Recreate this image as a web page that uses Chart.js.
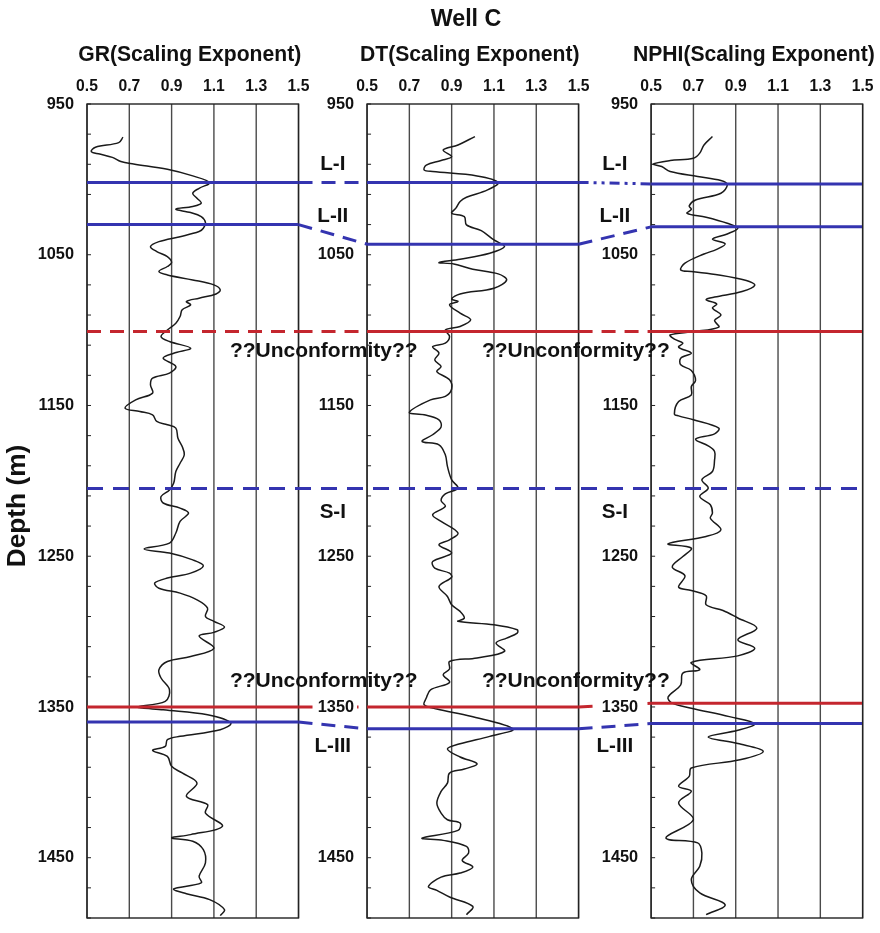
<!DOCTYPE html>
<html>
<head>
<meta charset="utf-8">
<title>Well C</title>
<script src="https://cdn.jsdelivr.net/npm/chart.js@4.4.1/dist/chart.umd.min.js"></script>
<style>
  html, body { margin: 0; padding: 0; background: #fff; }
  canvas { display: block; }
</style>
</head>
<body>
<canvas id="wellChart" width="880" height="933"></canvas>
<script>
const trackTitles = ['GR(Scaling Exponent)', 'DT(Scaling Exponent)', 'NPHI(Scaling Exponent)'];
const xTickValues = [0.5, 0.7, 0.9, 1.1, 1.3, 1.5];
const depthTickLabels = [950, 1050, 1150, 1250, 1350, 1450];
const depthMin = 950;
const depthMax = 1490;
const depthMinorStep = 20;

// GR scaling exponent vs depth
const grDepth = [972, 975.6, 978.7, 981.6, 983.2, 985.4, 988.2, 989.8, 993.3, 997.7, 1002.2, 1005.9, 1009.2, 1012.5, 1015.8, 1018, 1019.8, 1022, 1024.7, 1028.6, 1032.4, 1034.6, 1038, 1041.3, 1044.6, 1047.9, 1051.3, 1055.2, 1057.8, 1061.1, 1063.4, 1066.7, 1070, 1073.3, 1076, 1078.8, 1081, 1083.3, 1086.5, 1091, 1095.4, 1099.9, 1104.3, 1107.6, 1112, 1115.3, 1118.6, 1124.1, 1128.5, 1131.9, 1136.3, 1141.8, 1146.3, 1151.8, 1154, 1156.2, 1160.6, 1162.8, 1165, 1171.7, 1177.2, 1182.7, 1188.3, 1193.8, 1201.5, 1206, 1210.4, 1214.7, 1218.1, 1221.4, 1226.9, 1234.6, 1241.3, 1245.2, 1247.9, 1252.4, 1256.4, 1261.2, 1264.5, 1267.8, 1271.2, 1274.5, 1278.9, 1284.4, 1290, 1293.2, 1297, 1300.5, 1303, 1311, 1316.5, 1319.8, 1325.3, 1330.8, 1338.6, 1346.3, 1350, 1351.9, 1355.2, 1360.7, 1365.1, 1369.5, 1371.7, 1376.2, 1378.8, 1382.8, 1389.4, 1393.8, 1400.5, 1409.3, 1414.8, 1420.4, 1429.2, 1434.7, 1436.9, 1439.1, 1444.7, 1453.5, 1462.3, 1466.7, 1470.7, 1473.9, 1477.8, 1484.5, 1488.4];
const grValue = [0.67, 0.65, 0.54, 0.52, 0.56, 0.62, 0.66, 0.72, 0.88, 1.0, 1.08, 1.03, 1.0, 1.02, 1.04, 1.0, 0.92, 0.99, 1.04, 1.06, 1.05, 1.03, 0.94, 0.84, 0.8, 0.83, 0.88, 0.9, 0.88, 0.84, 0.88, 1.0, 1.1, 1.13, 1.11, 1.03, 0.97, 0.99, 0.95, 0.94, 0.92, 0.88, 0.85, 0.89, 0.99, 0.91, 0.86, 0.92, 0.89, 0.81, 0.8, 0.81, 0.73, 0.68, 0.75, 0.81, 0.83, 0.88, 0.92, 0.93, 0.95, 0.96, 0.94, 0.92, 0.91, 0.89, 0.85, 0.86, 0.94, 0.98, 0.94, 0.92, 0.89, 0.77, 0.89, 1.0, 1.05, 0.99, 0.88, 0.82, 0.84, 0.94, 1.02, 1.07, 1.06, 1.1, 1.15, 1.1, 1.03, 1.1, 0.99, 0.88, 0.84, 0.85, 0.89, 0.87, 0.74, 0.86, 1.07, 1.18, 1.13, 0.94, 0.88, 0.87, 0.81, 0.88, 0.9, 0.95, 1.02, 0.97, 1.07, 1.06, 1.14, 0.99, 0.9, 1.0, 1.05, 1.06, 1.03, 1.04, 0.91, 0.97, 1.08, 1.15, 1.13];

// DT scaling exponent vs depth
const dtDepth = [971.6, 977.2, 980.5, 984.9, 987.5, 990.5, 993.8, 994.8, 997.7, 1002.1, 1007, 1011.9, 1014.7, 1019.1, 1022.5, 1024.7, 1030.2, 1034, 1040.2, 1044.6, 1049, 1053, 1055.2, 1056.1, 1059.6, 1062.7, 1066.7, 1072.2, 1076, 1079.4, 1081, 1083.2, 1088.8, 1093.2, 1097.6, 1099.9, 1104.2, 1108.6, 1111, 1115.3, 1119.8, 1124.1, 1127.5, 1133, 1139.1, 1144, 1146.3, 1154.6, 1156.2, 1159.5, 1164.3, 1169.4, 1173.9, 1176.1, 1182.7, 1190.4, 1199.3, 1204.8, 1208.6, 1213, 1217, 1222.5, 1226.9, 1234.6, 1239.1, 1242.4, 1247.9, 1253.5, 1257.9, 1261.2, 1263.9, 1270.1, 1276.7, 1282.2, 1286.6, 1291, 1293.2, 1295.5, 1298.8, 1301, 1304.3, 1307.6, 1313.1, 1317.5, 1319.8, 1324.8, 1328.6, 1333.7, 1338.6, 1344.1, 1348.5, 1351.4, 1356.2, 1364.6, 1369.5, 1374.4, 1377.9, 1383.2, 1387.7, 1391.2, 1393.9, 1400.5, 1406, 1413.7, 1420.4, 1424.8, 1427, 1431.9, 1437, 1438.5, 1442.5, 1446.9, 1451.8, 1456.2, 1460.2, 1462.9, 1469.1, 1471.7, 1476.1, 1482.3, 1487.8];
const dtValue = [1.01, 0.93, 0.86, 0.9, 0.85, 0.78, 0.77, 0.81, 1.02, 1.12, 1.07, 0.97, 0.94, 0.92, 0.9, 0.96, 0.97, 1.04, 1.1, 1.15, 1.08, 0.94, 0.84, 0.91, 1.0, 1.12, 1.16, 1.1, 0.94, 0.9, 0.93, 0.89, 0.94, 0.99, 0.94, 0.87, 0.89, 0.87, 0.81, 0.84, 0.82, 0.85, 0.83, 0.89, 0.9, 0.87, 0.8, 0.7, 0.77, 0.84, 0.85, 0.81, 0.76, 0.84, 0.87, 0.88, 0.9, 0.93, 0.87, 0.85, 0.87, 0.81, 0.85, 0.93, 0.89, 0.84, 0.9, 0.81, 0.82, 0.89, 0.9, 0.84, 0.88, 0.9, 0.94, 0.96, 0.93, 1.1, 1.21, 1.21, 1.16, 1.11, 1.15, 1.02, 0.89, 0.89, 0.86, 0.89, 0.8, 0.78, 0.77, 0.83, 0.99, 1.19, 1.08, 0.94, 0.88, 0.94, 1.02, 0.96, 0.89, 0.88, 0.85, 0.83, 0.85, 0.88, 0.94, 0.93, 0.76, 0.86, 0.97, 0.98, 0.95, 1.0, 0.94, 0.85, 0.79, 0.83, 0.89, 1.0, 0.97];

// NPHI scaling exponent vs depth
const nphiDepth = [971.6, 977.2, 982.6, 986, 987.5, 989.8, 991.5, 994.8, 998.1, 1000.8, 1003.7, 1009.2, 1013.7, 1017.6, 1019.8, 1022.5, 1025.1, 1029.1, 1032.4, 1036.2, 1039.7, 1042.8, 1046.4, 1049.5, 1055.6, 1060.1, 1061.1, 1063.4, 1067.1, 1070.2, 1074.4, 1078.1, 1079.9, 1082.6, 1085.4, 1089.9, 1093.6, 1098, 1101, 1103.2, 1106, 1108.6, 1111.3, 1115.3, 1118.6, 1123, 1126.8, 1133.4, 1137.4, 1143, 1147.4, 1155.6, 1156.9, 1159.5, 1165, 1168.8, 1172.3, 1176.8, 1180.5, 1186.1, 1193.8, 1199.3, 1204.8, 1210.4, 1215.9, 1221.4, 1224.8, 1232.5, 1236.9, 1241.8, 1244.6, 1250.2, 1257.2, 1263, 1270.5, 1272.7, 1276.2, 1282.2, 1286, 1291, 1297.7, 1305.4, 1311, 1316.1, 1320.4, 1325.3, 1327.5, 1335.3, 1343.5, 1347.5, 1350.8, 1356.4, 1361.1, 1365.5, 1369.9, 1374.3, 1379.4, 1385, 1390.5, 1396, 1402.6, 1405.9, 1413.7, 1424.8, 1436.9, 1440.2, 1446.9, 1455.7, 1464.6, 1473.4, 1481.2, 1487.8];
const nphiValue = [0.79, 0.75, 0.73, 0.7, 0.59, 0.51, 0.55, 0.59, 0.72, 0.83, 0.86, 0.83, 0.71, 0.68, 0.69, 0.67, 0.76, 0.86, 0.91, 0.86, 0.79, 0.85, 0.81, 0.75, 0.66, 0.64, 0.69, 0.82, 0.95, 0.99, 0.93, 0.8, 0.76, 0.81, 0.79, 0.83, 0.8, 0.82, 0.7, 0.59, 0.61, 0.65, 0.63, 0.69, 0.64, 0.64, 0.69, 0.71, 0.69, 0.69, 0.63, 0.61, 0.63, 0.7, 0.82, 0.8, 0.71, 0.77, 0.8, 0.8, 0.79, 0.74, 0.77, 0.73, 0.78, 0.79, 0.78, 0.83, 0.76, 0.58, 0.69, 0.65, 0.6, 0.66, 0.63, 0.69, 0.76, 0.76, 0.84, 0.91, 1.0, 0.91, 0.99, 0.91, 0.69, 0.73, 0.65, 0.64, 0.58, 0.6, 0.69, 0.87, 0.99, 0.91, 0.77, 0.91, 1.03, 0.92, 0.69, 0.68, 0.63, 0.69, 0.63, 0.7, 0.57, 0.72, 0.74, 0.73, 0.69, 0.73, 0.85, 0.76];

// horizon depths picked in each track: GR, DT, NPHI
const horizonLI = [1002, 1002, 1003];
const horizonLII = [1030, 1043, 1031.5];
const unconformityUpper = [1101, 1101, 1101];
const horizonSI = [1205, 1205, 1205];
const unconformityLower = [1350, 1350, 1347.5];
const horizonLIII = [1360, 1364.5, 1361];

// layout of the three tracks on one shared x scale
const trackOffset = [0, 1.324, 2.667];
const xSpan = 3.664;
const BLUE = '#3434b0';
const RED = '#c4262e';
const FONT = "'Liberation Sans', Arial, sans-serif";
const DASH = [14, 9];
const DASH_DOT = [10, 5, 3, 5, 3, 5];

function toX(track, v) {
    return trackOffset[track] + v - 0.5;
}

function curve(depths, values, track) {
    return {
        data: depths.map((d, i) => ({ x: toX(track, values[i]), y: d })),
        borderColor: '#1a1a1a',
        borderWidth: 1.5,
        pointRadius: 0,
        tension: 0.35,
        order: 2
    };
}

function segment(x0, d0, x1, d1, color, dash) {
    return {
        data: [{ x: x0, y: d0 }, { x: x1, y: d1 }],
        borderColor: color,
        borderWidth: 3,
        borderDash: dash || [],
        pointRadius: 0,
        tension: 0,
        order: 1
    };
}

// solid (or dashed) line inside each track, connectors across the gaps
function horizon(depths, color, trackDash, gapDash) {
    const out = [];
    for (let t = 0; t < 3; t++) {
        out.push(segment(toX(t, 0.5), depths[t], toX(t, 1.5), depths[t], color, trackDash[t]));
        if (t < 2) {
            out.push(segment(toX(t, 1.5), depths[t], toX(t + 1, 0.5), depths[t + 1], color, gapDash[t]));
        }
    }
    return out;
}

const datasets = [
    curve(grDepth, grValue, 0),
    curve(dtDepth, dtValue, 1),
    curve(nphiDepth, nphiValue, 2),
    ...horizon(horizonLI, BLUE, [null, null, null], [DASH, DASH_DOT]),
    ...horizon(horizonLII, BLUE, [null, null, null], [DASH, DASH]),
    ...horizon(unconformityUpper, RED, [DASH, null, null], [DASH, DASH]),
    segment(toX(0, 0.5), horizonSI[0], toX(2, 1.5), horizonSI[2], BLUE, [16, 10]),
    ...horizon(unconformityLower, RED, [null, null, null], [DASH, DASH]),
    ...horizon(horizonLIII, BLUE, [null, null, null], [DASH, DASH])
];

// labels written in the gaps between tracks
const gapLabels = [
    { text: 'L-I', depth: 990 },
    { text: 'L-II', depth: 1024.5 },
    { text: 'S-I', depth: 1221 },
    { text: 'L-III', depth: 1376 }
];
const unconformityLabelDepth = [1114, 1333];

function drawText(ctx, text, x, y, size, align, stretch) {
    ctx.save();
    ctx.translate(x, y);
    ctx.scale(stretch || 1, 1);
    ctx.font = `bold ${size}px ${FONT}`;
    ctx.textAlign = align || 'center';
    ctx.textBaseline = 'middle';
    ctx.fillStyle = '#111';
    ctx.fillText(text, 0, 0);
    ctx.restore();
}

const wellTracks = {
    id: 'wellTracks',
    beforeDatasetsDraw(chart) {
        const ctx = chart.ctx;
        const xs = chart.scales.x, ys = chart.scales.y;
        const top = ys.getPixelForValue(depthMin), bottom = ys.getPixelForValue(depthMax);
        ctx.save();
        for (let t = 0; t < 3; t++) {
            // vertical grid
            ctx.strokeStyle = '#4a4a4a';
            ctx.lineWidth = 1.4;
            xTickValues.forEach(v => {
                const px = xs.getPixelForValue(toX(t, v));
                ctx.beginPath();
                ctx.moveTo(px, top);
                ctx.lineTo(px, bottom);
                ctx.stroke();
            });
            const left = xs.getPixelForValue(toX(t, 0.5));
            const right = xs.getPixelForValue(toX(t, 1.5));
            ctx.strokeStyle = '#222';
            ctx.strokeRect(left, top, right - left, bottom - top);
            // depth ticks pointing into the track
            ctx.lineWidth = 1;
            for (let d = depthMin; d <= depthMax; d += depthMinorStep) {
                const py = ys.getPixelForValue(d);
                ctx.beginPath();
                ctx.moveTo(left, py);
                ctx.lineTo(left + 4, py);
                ctx.stroke();
            }
        }
        ctx.restore();
    },
    afterDatasetsDraw(chart) {
        const ctx = chart.ctx;
        const xs = chart.scales.x, ys = chart.scales.y;
        const top = ys.getPixelForValue(depthMin);

        drawText(ctx, 'Well C', 466, 19, 24, 'center', 0.97);

        for (let t = 0; t < 3; t++) {
            const left = xs.getPixelForValue(toX(t, 0.5));
            const right = xs.getPixelForValue(toX(t, 1.5));
            drawText(ctx, trackTitles[t], (left + right) / 2 - 3, 55, 22, 'center', 0.96);
            xTickValues.forEach(v => {
                drawText(ctx, v.toFixed(1), xs.getPixelForValue(toX(t, v)), top - 17, 16, 'center', 0.98);
            });
            depthTickLabels.forEach(d => {
                const py = ys.getPixelForValue(d);
                if (t > 0) {
                    ctx.fillStyle = '#fff';
                    ctx.fillRect(left - 54, py - 7, 44, 14);
                }
                drawText(ctx, String(d), left - 13, py, 17, 'right', 0.96);
            });
        }

        for (let g = 0; g < 2; g++) {
            const gapMid = (xs.getPixelForValue(toX(g, 1.5)) + xs.getPixelForValue(toX(g + 1, 0.5))) / 2;
            gapLabels.forEach(l => {
                drawText(ctx, l.text, gapMid, ys.getPixelForValue(l.depth), 21, 'center', 0.98);
            });
            unconformityLabelDepth.forEach(d => {
                drawText(ctx, '??Unconformity??', gapMid - 9 - g * 30, ys.getPixelForValue(d), 21, 'center', 1.0);
            });
        }

        ctx.save();
        ctx.translate(18, 506);
        ctx.rotate(-Math.PI / 2);
        drawText(ctx, 'Depth (m)', 0, 0, 25, 'center', 1.05);
        ctx.restore();
    }
};

new Chart(document.getElementById('wellChart'), {
    type: 'line',
    data: { datasets: datasets },
    options: {
        responsive: false,
        animation: false,
        events: [],
        layout: { padding: { left: 87, right: 18, top: 104, bottom: 15 } },
        plugins: {
            legend: { display: false },
            tooltip: { enabled: false },
            title: { display: false }
        },
        scales: {
            x: { type: 'linear', min: 0, max: xSpan, display: false },
            y: { type: 'linear', min: depthMin, max: depthMax, reverse: true, display: false }
        }
    },
    plugins: [wellTracks]
});
</script>
</body>
</html>
